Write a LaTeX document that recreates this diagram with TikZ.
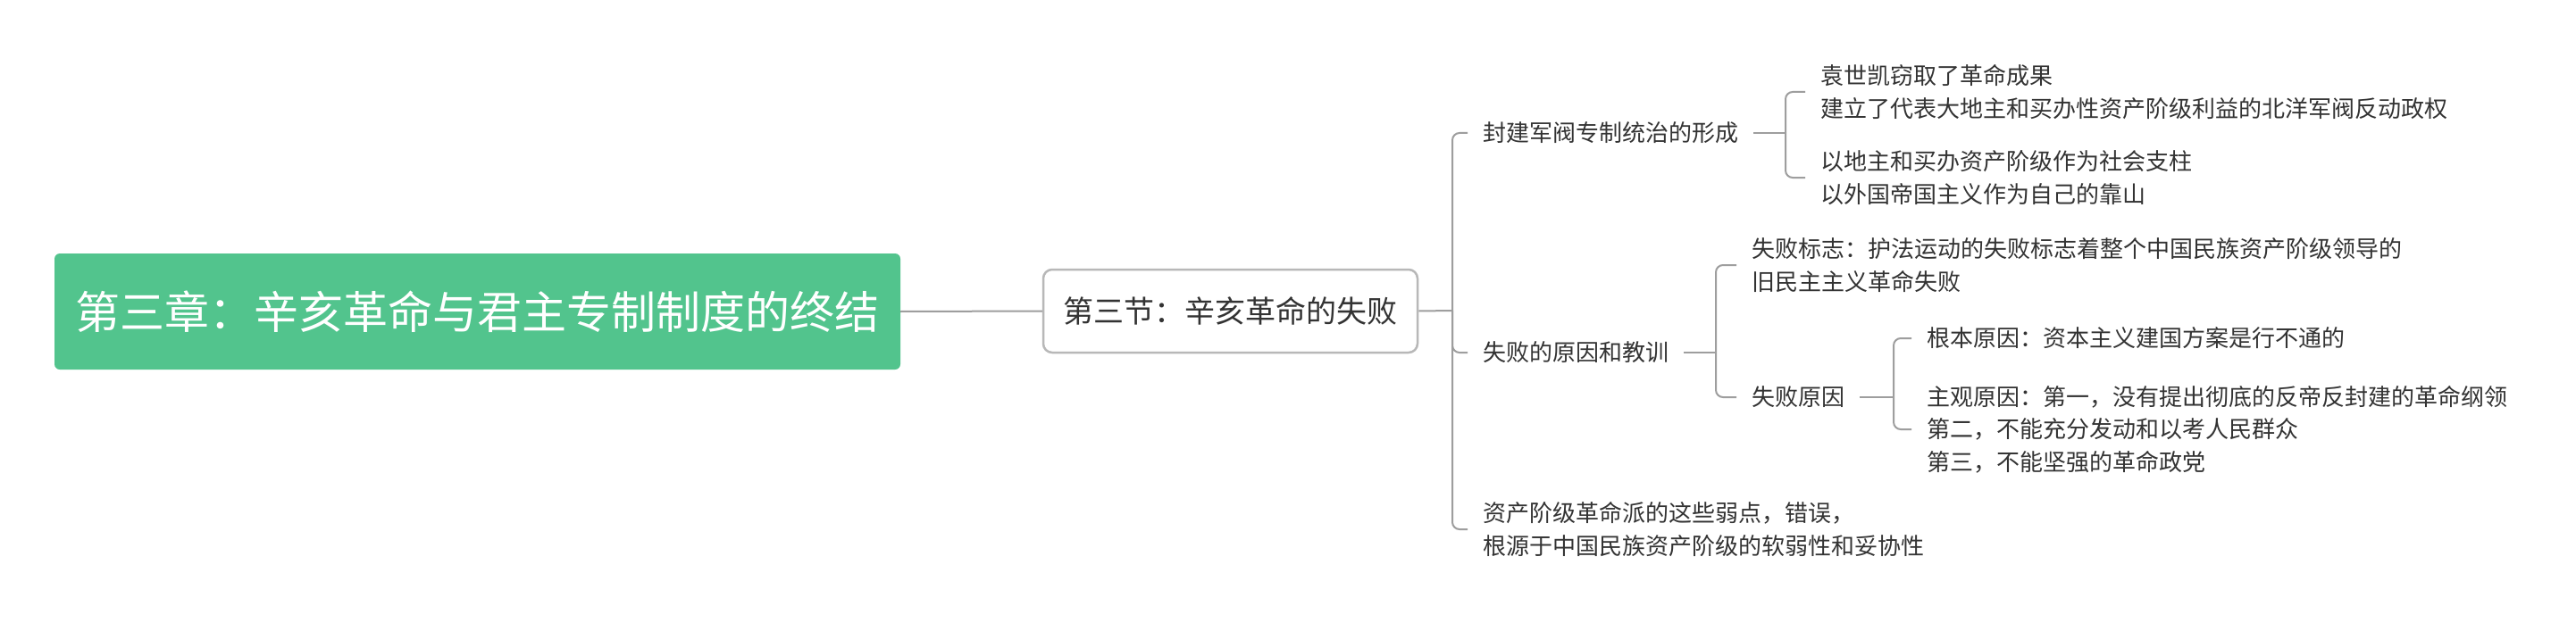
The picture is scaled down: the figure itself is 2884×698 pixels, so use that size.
\documentclass[tikz,border=0pt]{standalone}
\usepackage{fontspec}
\setmainfont{Noto Sans CJK SC}
\definecolor{rootgreen}{HTML}{52C48D}
\definecolor{txt}{HTML}{333333}
\definecolor{linec}{HTML}{9E9E9E}
\definecolor{secborder}{HTML}{B8B8B8}
\begin{document}
\begin{tikzpicture}[x=1pt,y=-1pt,
  leaf/.style={anchor=west,inner xsep=17pt,inner ysep=2pt,text=txt,font=\fontsize{26}{36.5}\selectfont,align=left},
  conn/.style={draw=linec,line width=2pt},
  elbow/.style={conn,rounded corners=8pt}]
\fill[white] (0,0) rectangle (2884,698);
\useasboundingbox (0,0) rectangle (2884,698);
\node[fill=rootgreen,rounded corners=6pt,minimum width=947pt,minimum height=130pt,inner sep=0pt,text=white,font=\fontsize{50}{60}\selectfont] (root) at (534.5,349) {第三章：辛亥革命与君主专制制度的终结};
\node[draw=secborder,line width=2.5pt,rounded corners=10pt,minimum width=419pt,minimum height=93pt,inner sep=0pt,text=txt,font=\fontsize{34}{40}\selectfont] (sec) at (1377.5,348.5) {第三节：辛亥革命的失败};
\coordinate (t) at (1626,348);
\draw[conn] (root.east) -- (sec.west);
\draw[conn] (sec.east) -- (t);
\node[leaf] (a) at (1643,149) {封建军阀专制统治的形成};
\node[leaf] (b) at (1643,395) {失败的原因和教训};
\node[leaf] (c) at (1643,593) {资产阶级革命派的这些弱点，错误，\\根源于中国民族资产阶级的软弱性和妥协性};
\draw[elbow] (t) |- (a.west);
\draw[elbow] (t) |- (b.west);
\draw[elbow] (t) |- (c.west);
% branch a
\coordinate (ab) at (1999,149);
\draw[conn] (a.east) -- (ab);
\node[leaf] (a1) at (2021,103) {袁世凯窃取了革命成果\\建立了代表大地主和买办性资产阶级利益的北洋军阀反动政权};
\node[leaf] (a2) at (2021,199) {以地主和买办资产阶级作为社会支柱\\以外国帝国主义作为自己的靠山};
\draw[elbow] (ab) |- (a1.west);
\draw[elbow] (ab) |- (a2.west);
% branch b
\coordinate (bb) at (1921,395);
\draw[conn] (b.east) -- (bb);
\node[leaf] (b1) at (1944,297) {失败标志：护法运动的失败标志着整个中国民族资产阶级领导的\\旧民主主义革命失败};
\node[leaf] (b2) at (1944,445) {失败原因};
\draw[elbow] (bb) |- (b1.west);
\draw[elbow] (bb) |- (b2.west);
% branch b2
\coordinate (bc) at (2120,445);
\draw[conn] (b2.east) -- (bc);
\node[leaf] (b2a) at (2140,379) {根本原因：资本主义建国方案是行不通的};
\node[leaf] (b2b) at (2140,481) {主观原因：第一，没有提出彻底的反帝反封建的革命纲领\\第二，不能充分发动和以考人民群众\\第三，不能坚强的革命政党};
\draw[elbow] (bc) |- (b2a.west);
\draw[elbow] (bc) |- (b2b.west);
\end{tikzpicture}
\end{document}
